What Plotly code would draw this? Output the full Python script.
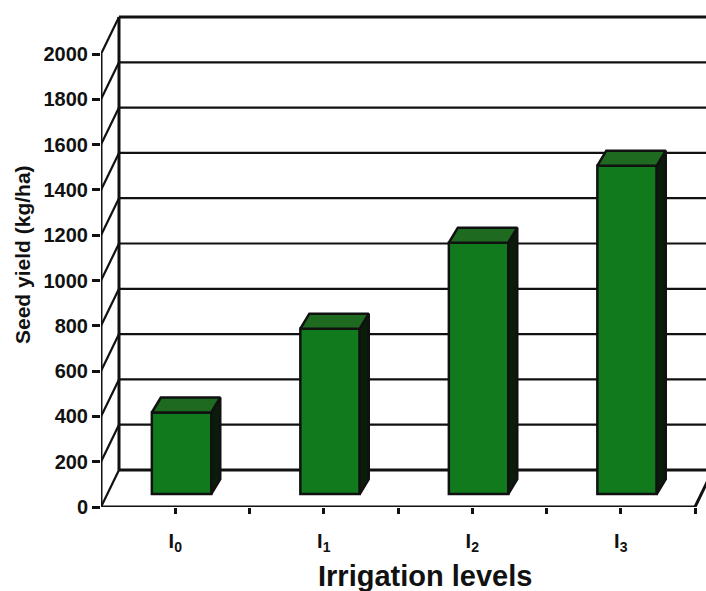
import plotly.graph_objects as go

# ---- data -------------------------------------------------------------
categories = ["I<sub>0</sub>", "I<sub>1</sub>", "I<sub>2</sub>", "I<sub>3</sub>"]
seed_yield = [360, 730, 1110, 1450]          # kg/ha
y_ticks = list(range(0, 2001, 200))
y_tick_text = [str(v) for v in y_ticks]

# ---- canvas / box geometry -------------------------------------------
W, H = 706, 591
AX_LEFT = 101            # front vertical axis (px)
FLOOR_Y = 507            # front floor edge (px)
CAT_PX = 148.5           # width of one category (px)
PX_PER_UNIT = 0.2265     # px per kg/ha
WALL_DX_PX, WALL_DY_PX = 18, 37     # depth of the 3-D box
BAR_DX_PX, BAR_DY_PX = 9, 15        # depth of each column
BAR_SET = 0.35                      # columns sit this far into the box
BAR_W = 0.40                        # column width (category units)

x_min = -0.5
x_max = x_min + (W - AX_LEFT) / CAT_PX
y_max = FLOOR_Y / PX_PER_UNIT
n = len(categories)

WDX = WALL_DX_PX / CAT_PX
WDY = WALL_DY_PX / PX_PER_UNIT
BDX = BAR_DX_PX / CAT_PX
BDY = BAR_DY_PX / PX_PER_UNIT
top_val = y_ticks[-1]

FRONT = "#107a1c"
TOP = "#1d6a20"
SIDE = "#0a1d0b"
INK = "#111111"


def seg(x0, y0, x1, y1, w=2):
    return dict(type="line", xref="x", yref="y", x0=x0, y0=y0, x1=x1, y1=y1,
                line=dict(color=INK, width=w), layer="below")


shapes = []
# back wall gridlines and side-wall diagonals
for v in y_ticks:
    w = 3 if v in (0, top_val) else 2.2
    shapes.append(seg(x_min + WDX, v + WDY, n - 0.5 + WDX, v + WDY, w))
    shapes.append(seg(x_min, v, x_min + WDX, v + WDY, 2.2))
# box edges
shapes.append(seg(x_min + WDX, WDY, x_min + WDX, top_val + WDY, 3))
shapes.append(seg(x_min, 0, x_min, top_val, 3))
shapes.append(seg(x_min, 0, n - 0.5, 0, 3))
shapes.append(seg(n - 0.5, 0, n - 0.5 + WDX, WDY, 3))

fig = go.Figure()

# column front faces
bar_x = [i + BAR_SET * WDX for i in range(n)]
bar_base = BAR_SET * WDY
fig.add_trace(go.Bar(
    x=bar_x, y=seed_yield, base=[bar_base] * n, width=BAR_W,
    marker=dict(color=FRONT, line=dict(color=INK, width=2.5)),
    hoverinfo="skip", showlegend=False,
))

# column side and top faces, one polygon per column in each trace
side_x, side_y, top_x, top_y = [], [], [], []
for xc, v in zip(bar_x, seed_yield):
    xl, xr = xc - BAR_W / 2, xc + BAR_W / 2
    yb, yt = bar_base, bar_base + v
    side_x += [xr, xr, xr + BDX, xr + BDX, xr, None]
    side_y += [yb, yt, yt + BDY, yb + BDY, yb, None]
    top_x += [xl, xr, xr + BDX, xl + BDX, xl, None]
    top_y += [yt, yt, yt + BDY, yt + BDY, yt, None]

for px, py, col in ((side_x, side_y, SIDE), (top_x, top_y, TOP)):
    fig.add_trace(go.Scatter(
        x=px, y=py, mode="lines", fill="toself", fillcolor=col,
        line=dict(color=INK, width=2.5), hoverinfo="skip", showlegend=False,
    ))

# category ticks, plus boundary ticks between categories
x_tickvals = list(range(n))
boundary_ticks = [i + 0.5 for i in range(n)]


def paper_x(px):
    return (px - AX_LEFT) / (W - AX_LEFT)


def paper_y(py):
    return (FLOOR_Y - py) / FLOOR_Y


FONT = "Liberation Sans, Arial, sans-serif"
annotations = [
    dict(text="<b>Seed yield (kg/ha)</b>", xref="paper", yref="paper",
         x=paper_x(22), y=paper_y(255), textangle=-90, showarrow=False,
         xanchor="center", yanchor="middle",
         font=dict(family=FONT, size=21, color=INK)),
    dict(text="<b>Irrigation levels</b>", xref="paper", yref="paper",
         x=paper_x(425), y=paper_y(576), showarrow=False,
         xanchor="center", yanchor="middle",
         font=dict(family=FONT, size=29, color=INK)),
]

fig.update_layout(
    width=W, height=H,
    margin=dict(l=AX_LEFT, r=0, t=0, b=H - FLOOR_Y, pad=0),
    paper_bgcolor="white", plot_bgcolor="white",
    shapes=shapes, annotations=annotations,
    showlegend=False,
    xaxis=dict(range=[x_min, x_max], showgrid=False, zeroline=False,
               showline=False, tickmode="array", tickvals=x_tickvals,
               ticktext=categories, ticks="outside", ticklen=6, tickwidth=2.5,
               tickcolor=INK, ticklabelstandoff=10,
               minor=dict(tickmode="array", tickvals=boundary_ticks,
                          ticks="outside", ticklen=6, tickwidth=2.5,
                          tickcolor=INK, showgrid=False),
               tickfont=dict(family=FONT, size=20, color=INK, weight="bold")),
    yaxis=dict(range=[0, y_max], showgrid=False, zeroline=False,
               showline=False, tickmode="array", tickvals=y_ticks,
               ticktext=y_tick_text, ticks="outside", ticklen=8, tickwidth=2.5,
               tickcolor=INK,
               tickfont=dict(family=FONT, size=20, color=INK, weight="bold")),
)

fig.write_html("out.html")
